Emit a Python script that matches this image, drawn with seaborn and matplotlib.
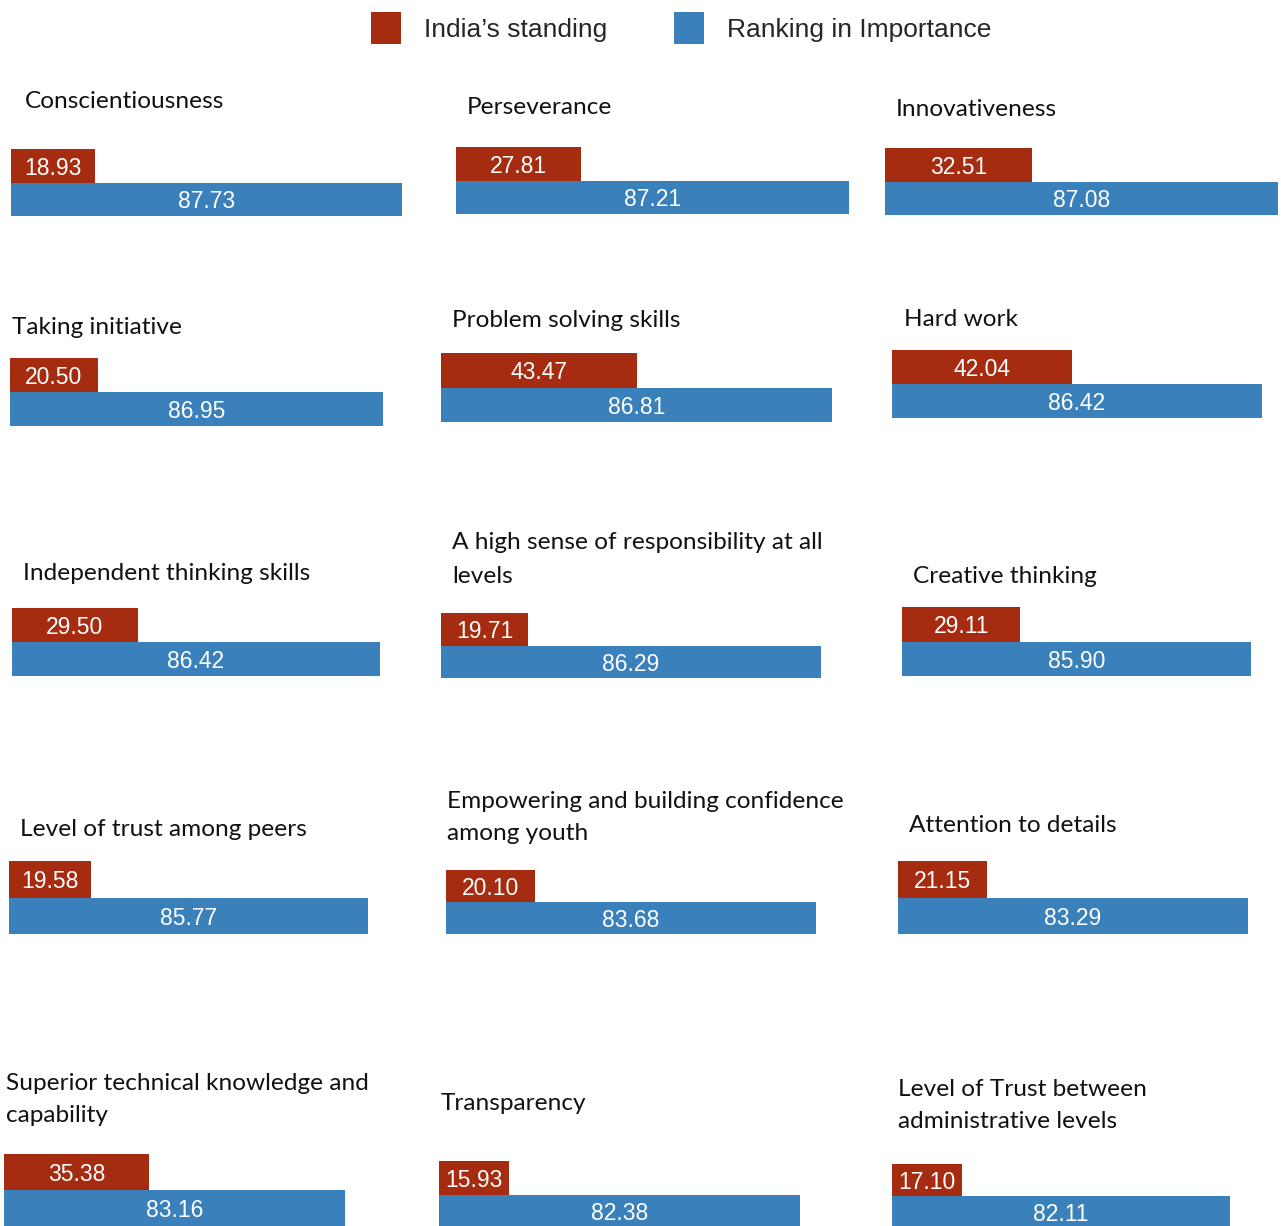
import matplotlib
matplotlib.use("Agg")
import matplotlib.pyplot as plt
import seaborn as sns
import pandas as pd
from matplotlib.patches import Patch

# Attributes, in reading order (left to right, top to bottom)
attributes = [
    "Conscientiousness",
    "Perseverance",
    "Innovativeness",
    "Taking initiative",
    "Problem solving skills",
    "Hard work",
    "Independent thinking skills",
    "A high sense of responsibility at all\nlevels",
    "Creative thinking",
    "Level of trust among peers",
    "Empowering and building confidence\namong youth",
    "Attention to details",
    "Superior technical knowledge and\ncapability",
    "Transparency",
    "Level of Trust between\nadministrative levels",
]
india_standing = [18.93, 27.81, 32.51, 20.50, 43.47, 42.04, 29.50, 19.71,
                  29.11, 19.58, 20.10, 21.15, 35.38, 15.93, 17.10]
ranking_importance = [87.73, 87.21, 87.08, 86.95, 86.81, 86.42, 86.42, 86.29,
                      85.90, 85.77, 83.68, 83.29, 83.16, 82.38, 82.11]
series_names = ["India\u2019s standing", "Ranking in Importance"]

RED = "#A52C10"
BLUE = "#3A80BA"

# Panel boxes in pixels: bar left, bar right, bar top, bar bottom, title x, title y (first line)
panel_boxes = [
    (11, 402, 149, 216, 25, 101),
    (456, 849, 147, 214, 467, 108),
    (885, 1278, 148, 215, 896, 109),
    (10, 383, 358, 426, 12, 327),
    (441, 832, 353, 422, 452, 321),
    (892, 1262, 350, 418, 904, 319),
    (12, 380, 608, 676, 23, 573),
    (441, 821, 613, 678, 452, 543),
    (902, 1251, 607, 676, 913, 576),
    (9, 368, 861, 934, 20, 829),
    (446, 816, 870, 934, 447, 801),
    (898, 1248, 861, 934, 909, 826),
    (4, 345, 1154, 1226, 6, 1083),
    (439, 800, 1161, 1228, 441, 1104),
    (892, 1230, 1164, 1228, 898, 1089),
]
LINE_STEP = 33  # pixels between title lines

W, H = 1281, 1226
sns.set_theme(style="white")
plt.rcParams["font.family"] = ["Liberation Sans", "DejaVu Sans"]

fig = plt.figure(figsize=(W / 100, H / 100), dpi=100)

for i, name in enumerate(attributes):
    l, r, t, b, tx, ty = panel_boxes[i]
    ax = fig.add_axes([l / W, 1 - b / H, (r - l) / W, (b - t) / H])
    df = pd.DataFrame({
        "series": series_names,
        "value": [india_standing[i], ranking_importance[i]],
    })
    sns.barplot(data=df, x="value", y="series", hue="series",
                palette=[RED, BLUE], orient="h", width=1.0,
                legend=False, ax=ax, linewidth=0, saturation=1)
    ax.set_xlim(0, ranking_importance[i])
    ax.set_ylim(1.5, -0.5)
    ax.axis("off")
    for patch, val in zip(ax.patches, [india_standing[i], ranking_importance[i]]):
        cx = patch.get_x() + patch.get_width() / 2
        cy = patch.get_y() + patch.get_height() / 2
        ax.text(cx, cy, f"{val:.2f}", ha="center", va="center_baseline",
                color="white", fontsize=16.5, clip_on=False)
    for k, line in enumerate(name.split("\n")):
        fig.text(tx / W, 1 - (ty + k * LINE_STEP) / H, line, ha="left",
                 va="center", fontsize=17.6, family=["Lato", "DejaVu Sans"],
                 color="#111111")

handles = [Patch(facecolor=RED, edgecolor="none"),
           Patch(facecolor=BLUE, edgecolor="none")]
fig.legend(handles, series_names, loc="center", bbox_to_anchor=(681 / W, 1 - 28 / H),
           ncol=2, frameon=False, fontsize=19, handlelength=1.15, handleheight=1.45,
           handletextpad=0.85, columnspacing=2.55)

fig.savefig("out.png", dpi=100)
